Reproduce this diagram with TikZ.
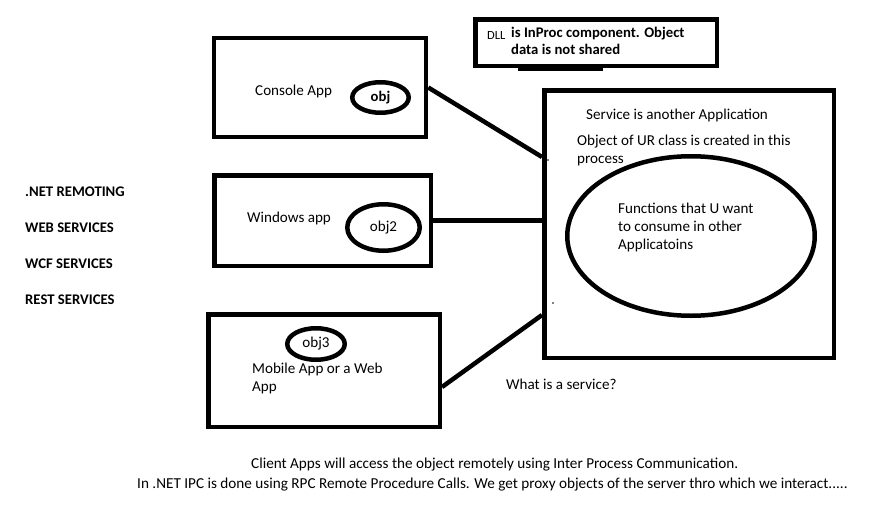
\documentclass[tikz,border=0pt]{standalone}
\usepackage{fontspec}
\setmainfont{Carlito}
\usetikzlibrary{shapes.geometric}

\newcommand\paintfont{\fontsize{15.1}{18}\selectfont}
\newcommand\boldfont{\fontsize{14.7}{18}\selectfont\bfseries}
\tikzset{
  appbox/.style={draw,rectangle,line width=4.5pt,inner sep=0pt},
  objring/.style={draw,ellipse,line width=4.5pt,inner sep=0pt,font=\paintfont},
  wire/.style={line width=4.5pt},
  lbl/.style={anchor=base west,inner sep=0pt,align=left,font=\paintfont},
  heavy/.style={lbl,font=\boldfont},
  foot/.style={lbl,font=\fontsize{15.2}{18}\selectfont}
}

\begin{document}
\begin{tikzpicture}[x=1pt,y=-1pt]
  \useasboundingbox (0,0) rectangle (887,514);
  % boxes
  \node[appbox,minimum width=241.5,minimum height=46.5] (dll) at (596,42.5) {};
  \node[appbox,minimum width=212,minimum height=99] (console) at (320,87.5) {};
  \node[appbox,minimum width=216.5,minimum height=90.5] (windows) at (322.5,220.5) {};
  \node[appbox,minimum width=231.5,minimum height=112.5] (mobile) at (324,370.5) {};
  \node[appbox,minimum width=289.5,minimum height=267.5] (service) at (689,224) {};
  \fill (518,67) rectangle (603,70.5);
  % objects
  \node[objring,minimum width=56.5,minimum height=30.5] (obj) at (380.5,97.5) {\boldfont obj};
  \node[objring,minimum width=72.5,minimum height=46.5] (obj2) at (383.5,227.5) {obj2};
  \node[objring,minimum width=57.5,minimum height=31.5] (obj3) at (316,344) {obj3};
  \node[objring,minimum width=247.5,minimum height=159.5] (funcs) at (691,236) {};
  % links
  \draw[wire] (console.east) -- ([yshift=67pt]service.west);
  \draw[wire] (windows.east) -- (windows.east -| service.west);
  \draw[wire] ([yshift=-16.5pt]mobile.east) -- ([yshift=-91pt]service.west);
  \fill (548,160) circle (0.9);
  \fill (553,303) circle (0.8);
  % texts
  \node[lbl,font=\fontsize{12.5}{15}\selectfont] (tdll) at (487,39) {DLL};
  \node[heavy] (tinproc) at (511,37) {is InProc component. Object};
  \node[heavy] (tshared) at (511,54) {data is not shared};
  \node[lbl] (tconsole) at (255,95) {Console App};
  \node[lbl] (twindows) at (247,222) {Windows app};
  \node[lbl] (tmobile) at (252,373) {Mobile App or a Web};
  \node[lbl] (tmobile2) at (252,391) {App};
  \node[heavy] (tremoting) at (25,196) {.NET REMOTING};
  \node[heavy] (tweb) at (25,232) {WEB SERVICES};
  \node[heavy] (twcf) at (25,268) {WCF SERVICES};
  \node[heavy] (trest) at (25,304) {REST SERVICES};
  \node[lbl] (tservice) at (586,119.5) {Service is another Application};
  \node[lbl] (tclass) at (577,145.5) {Object of UR class is created in this};
  \node[lbl] (tprocess) at (577,163.5) {process};
  \node[lbl] (tfunc) at (618,213.5) {Functions that U want};
  \node[lbl] (tfunc2) at (618,231.5) {to consume in other};
  \node[lbl] (tfunc3) at (618,249.5) {Applicatoins};
  \node[lbl] (twhat) at (506,389.5) {What is a service?};
  \node[foot] (tclient) at (251,468) {Client Apps will access the object remotely using Inter Process Communication.};
  \node[foot] (tipc) at (137,488) {In .NET IPC is done using RPC Remote Procedure Calls. We get proxy objects of the server thro which we interact.....};
\end{tikzpicture}
\end{document}
